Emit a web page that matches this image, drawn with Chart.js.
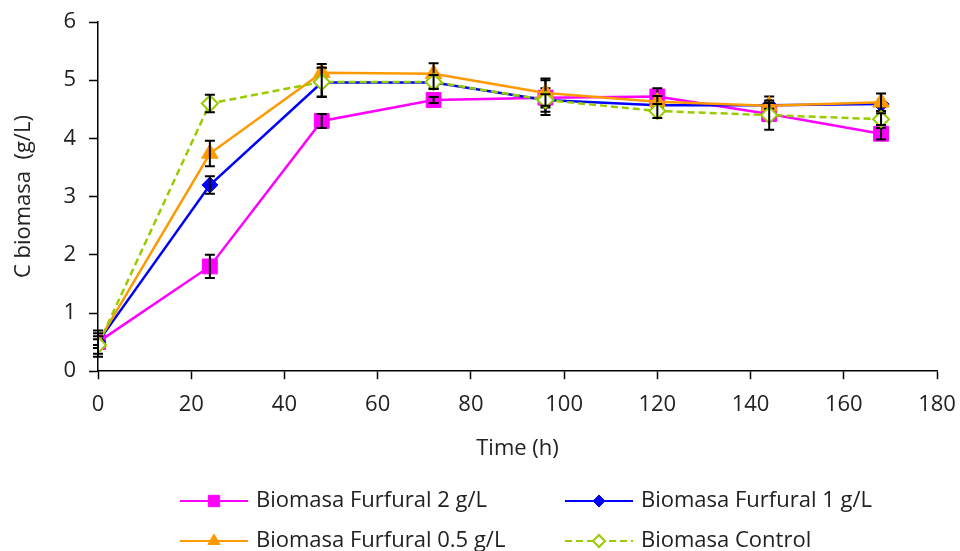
<!DOCTYPE html>
<html>
<head>
<meta charset="utf-8">
<script src="https://cdn.jsdelivr.net/npm/chart.js@4/dist/chart.umd.min.js"></script>
<style>
  html, body { margin: 0; padding: 0; background: #fff; }
  #wrap { width: 960px; height: 551px; }
</style>
</head>
<body>
<div id="wrap"><canvas id="c" width="960" height="551"></canvas></div>
<script>
// time points (h)
var times = [0, 24, 48, 72, 96, 120, 144, 168];

// biomass (g/L) per condition
var furfural2 = [0.50, 1.80, 4.30, 4.66, 4.70, 4.72, 4.42, 4.08];
var furfural1 = [0.50, 3.20, 4.96, 4.96, 4.66, 4.57, 4.57, 4.59];
var furfural05 = [0.50, 3.74, 5.13, 5.11, 4.78, 4.63, 4.56, 4.62];
var control = [0.45, 4.60, 4.97, 4.97, 4.66, 4.47, 4.40, 4.33];

// standard deviations (error bars)
var err2 = [0.20, 0.20, 0.12, 0.05, 0.30, 0.14, 0.05, 0.10];
var err1 = [0.05, 0.15, 0.25, 0.10, 0.20, 0.05, 0.15, 0.05];
var err05 = [0.10, 0.22, 0.15, 0.18, 0.25, 0.10, 0.05, 0.15];
var errCtrl = [0.20, 0.15, 0.25, 0.12, 0.10, 0.12, 0.25, 0.10];

var yTicks = [0, 1, 2, 3, 4, 5, 6];
var xTicks = [0, 20, 40, 60, 80, 100, 120, 140, 160, 180];

var FONT = '"Open Sans", Lato, sans-serif';
var FSIZE = 22;

function pts(vals) {
    return vals.map(function (v, i) { return { x: times[i], y: v }; });
}

var errorBars = {
    id: 'errorBars',
    afterDatasetDraw: function (chart, args) {
        var ds = chart.data.datasets[args.index];
        if (!ds.errors) return;
        var ys = chart.scales.y;
        var ctx = chart.ctx;
        ctx.save();
        ctx.strokeStyle = '#000';
        ctx.lineWidth = 2;
        args.meta.data.forEach(function (p, i) {
            var e = ds.errors[i];
            if (!e) return;
            var v = ds.data[i].y;
            var top = ys.getPixelForValue(v + e);
            var bot = ys.getPixelForValue(v - e);
            ctx.beginPath();
            ctx.moveTo(p.x, top); ctx.lineTo(p.x, bot);
            ctx.moveTo(p.x - 5, top); ctx.lineTo(p.x + 5, top);
            ctx.moveTo(p.x - 5, bot); ctx.lineTo(p.x + 5, bot);
            ctx.stroke();
        });
        ctx.restore();
    }
};

var legendCols = [180, 565];
var legendRows = [501, 541];

var customLegend = {
    id: 'customLegend',
    afterDraw: function (chart) {
        var ctx = chart.ctx;
        ctx.save();
        chart.data.datasets.forEach(function (ds, i) {
            var x = legendCols[i % 2];
            var y = legendRows[Math.floor(i / 2)];
            ctx.strokeStyle = ds.borderColor;
            ctx.lineWidth = 2;
            ctx.setLineDash(ds.borderDash || []);
            ctx.beginPath();
            ctx.moveTo(x, y); ctx.lineTo(x + 68, y);
            ctx.stroke();
            ctx.setLineDash([]);
            ctx.fillStyle = ds.pointBackgroundColor;
            ctx.strokeStyle = ds.pointBorderColor;
            ctx.lineWidth = ds.pointBorderWidth;
            Chart.helpers.drawPoint(ctx, { pointStyle: ds.pointStyle, radius: ds.legendRadius, borderWidth: ds.pointBorderWidth, rotation: 0 }, x + 34, y);
            ctx.fillStyle = '#222';
            ctx.font = FSIZE + 'px ' + FONT;
            ctx.textBaseline = 'middle';
            ctx.fillText(ds.label, x + 76, y);
        });
        ctx.restore();
    }
};

new Chart(document.getElementById('c'), {
    type: 'line',
    data: {
        datasets: [{
            label: 'Biomasa Furfural 2 g/L',
            data: pts(furfural2),
            errors: err2,
            borderColor: '#FF00FF',
            borderWidth: 2.5,
            pointStyle: 'rect',
            pointRadius: 10.5,
            legendRadius: 8,
            pointBackgroundColor: '#FF00FF',
            pointBorderColor: '#FF00FF',
            pointBorderWidth: 1,
            order: 3
        }, {
            label: 'Biomasa Furfural 1 g/L',
            data: pts(furfural1),
            errors: err1,
            borderColor: '#0000FF',
            borderWidth: 2.5,
            pointStyle: 'rectRot',
            pointRadius: 8,
            legendRadius: 6,
            pointBackgroundColor: '#0000FF',
            pointBorderColor: '#0000FF',
            pointBorderWidth: 1,
            order: 2
        }, {
            label: 'Biomasa Furfural 0.5 g/L',
            data: pts(furfural05),
            errors: err05,
            borderColor: '#FF9900',
            borderWidth: 2.5,
            pointStyle: 'triangle',
            pointRadius: 9.5,
            legendRadius: 7,
            pointBackgroundColor: '#FF9900',
            pointBorderColor: '#FF9900',
            pointBorderWidth: 1,
            order: 1
        }, {
            label: 'Biomasa Control',
            data: pts(control),
            errors: errCtrl,
            borderColor: '#99CC00',
            borderWidth: 2.5,
            borderDash: [7, 4],
            pointStyle: 'rectRot',
            pointRadius: 8,
            legendRadius: 6,
            pointBackgroundColor: '#FFFFFF',
            pointBorderColor: '#99CC00',
            pointBorderWidth: 2,
            order: 0
        }]
    },
    options: {
        responsive: false,
        animation: false,
        layout: { padding: { top: 22, right: 23, bottom: 85, left: 0 } },
        plugins: { legend: { display: false }, tooltip: { enabled: false } },
        scales: {
            x: {
                type: 'linear',
                min: 0, max: 180,
                afterBuildTicks: function (s) { s.ticks = xTicks.map(function (v) { return { value: v }; }); },
                afterFit: function (s) { s.paddingLeft = 0; s.paddingRight = 0; },
                grid: { drawOnChartArea: false, color: '#000', tickLength: 8, tickWidth: 1.5 },
                border: { color: '#000', width: 1.5 },
                ticks: { color: '#222', padding: 12, font: { family: FONT, size: FSIZE }, maxRotation: 0 },
                title: { display: true, text: 'Time (h)', color: '#222', font: { family: FONT, size: FSIZE }, padding: { top: 6, bottom: 4 } }
            },
            y: {
                min: 0, max: 6,
                afterBuildTicks: function (s) { s.ticks = yTicks.map(function (v) { return { value: v }; }); },
                afterFit: function (s) { s.width = 98; s.paddingTop = 0; s.paddingBottom = 0; },
                grid: { drawOnChartArea: false, color: '#000', tickLength: 9, tickWidth: 1.5 },
                border: { color: '#000', width: 1.5 },
                ticks: { color: '#222', padding: 13, font: { family: FONT, size: FSIZE } },
                title: { display: true, text: 'C biomasa  (g/L)', color: '#222', font: { family: FONT, size: FSIZE }, padding: { top: 11, bottom: 0 } }
            }
        }
    },
    plugins: [errorBars, customLegend]
});
</script>
</body>
</html>
